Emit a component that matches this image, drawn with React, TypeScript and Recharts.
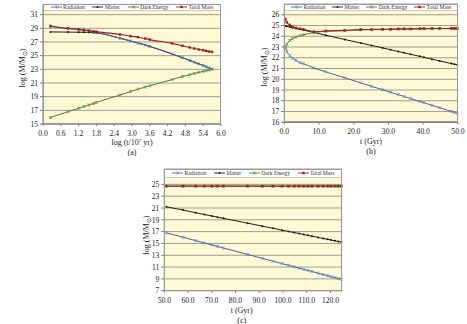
import { CartesianGrid, Line, LineChart, XAxis, YAxis } from "recharts";

// ---- panel (a): log time axis
const aX = [0.25, 0.84, 1.2, 1.38, 1.55, 1.7, 1.8, 2.6, 2.95, 3.2, 3.45, 3.6, 4.35, 4.7, 4.95, 5.1, 5.25, 5.4, 5.5, 5.6, 5.7];
const aRadiation = [29.25, 28.95, 28.8, 28.72, 28.62, 28.5, 28.42, 27.55, 27.15, 26.85, 26.55, 26.35, 25.25, 24.7, 24.3, 24.05, 23.8, 23.55, 23.38, 23.2, 23.05];
const aMatter = [28.47, 28.45, 28.43, 28.42, 28.4, 28.37, 28.33, 27.55, 27.15, 26.85, 26.55, 26.35, 25.25, 24.7, 24.3, 24.05, 23.8, 23.55, 23.38, 23.2, 23.05];
const aDark = [15.95, 16.8, 17.3, 17.55, 17.8, 18.0, 18.15, 19.25, 19.75, 20.1, 20.4, 20.6, 21.5, 21.95, 22.2, 22.4, 22.55, 22.7, 22.8, 22.9, 23.0];
const aTotal = [29.35, 29.0, 28.85, 28.75, 28.65, 28.55, 28.5, 28.1, 27.85, 27.7, 27.5, 27.35, 26.8, 26.45, 26.2, 26.05, 25.9, 25.8, 25.7, 25.6, 25.55];
const aXTicks = [0, 0.6, 1.2, 1.8, 2.4, 3.0, 3.6, 4.2, 4.8, 5.4, 6.0];
const aYTicks = [15, 17, 19, 21, 23, 25, 27, 29, 31];

// ---- panel (b): 0-50 Gyr
const bX = [0.3, 0.7, 1.6, 2.3, 3.4, 4.5, 5.5, 8.5, 11.9, 17.4, 22.0, 25.1, 28.3, 30.6, 32.8, 34.5, 36.4, 39.0, 40.2, 42.5, 44.7, 48.1, 49.0, 49.8];
const bRadiation = [23.0, 22.6, 22.2, 21.95, 21.75, 21.55, 21.45, 21.05, 20.7, 20.14, 19.67, 19.35, 19.03, 18.8, 18.57, 18.4, 18.2, 17.94, 17.82, 17.58, 17.36, 17.01, 16.92, 16.84];
const bMatter = [24.95, 24.92, 24.86, 24.8, 24.72, 24.65, 24.58, 24.35, 24.1, 23.7, 23.37, 23.15, 22.92, 22.75, 22.58, 22.46, 22.32, 22.13, 22.04, 21.87, 21.71, 21.46, 21.4, 21.34];
const bDark = [23.0, 23.25, 23.62, 23.78, 23.92, 24.05, 24.14, 24.33, 24.46, 24.52, 24.6, 24.61, 24.63, 24.64, 24.66, 24.67, 24.67, 24.69, 24.69, 24.7, 24.71, 24.71, 24.71, 24.71];
const bTotal = [25.62, 25.3, 25.05, 24.9, 24.78, 24.7, 24.65, 24.44, 24.5, 24.55, 24.62, 24.63, 24.65, 24.66, 24.68, 24.69, 24.69, 24.71, 24.71, 24.72, 24.72, 24.73, 24.73, 24.73];
const bXTicks = [0, 10, 20, 30, 40, 50];
const bYTicks = [16, 17, 18, 19, 20, 21, 22, 23, 24, 25, 26];

// ---- panel (c): 50-125 Gyr
const cX = [50.9, 57.9, 63.2, 66.9, 70.0, 72.4, 74.9, 85.1, 91.3, 95.8, 99.6, 102.3, 104.7, 106.8, 108.7, 110.5, 112.2, 114.8, 117.0, 118.8, 120.2, 121.9, 123.3, 124.6];
const cRadiation = [16.8, 16.05, 15.48, 15.08, 14.75, 14.5, 14.23, 13.14, 12.48, 12.0, 11.59, 11.3, 11.05, 10.82, 10.62, 10.43, 10.25, 9.97, 9.73, 9.54, 9.39, 9.21, 9.06, 8.92];
const cMatter = [21.2, 20.65, 20.2, 19.9, 19.65, 19.45, 19.25, 18.43, 17.93, 17.56, 17.25, 17.03, 16.84, 16.67, 16.52, 16.37, 16.23, 16.02, 15.84, 15.7, 15.58, 15.45, 15.33, 15.23];
const cDark = [24.69, 24.69, 24.69, 24.69, 24.69, 24.69, 24.69, 24.69, 24.69, 24.69, 24.69, 24.69, 24.69, 24.69, 24.69, 24.69, 24.69, 24.69, 24.69, 24.69, 24.69, 24.69, 24.69, 24.69];
const cTotal = [24.7, 24.7, 24.7, 24.7, 24.7, 24.7, 24.7, 24.7, 24.7, 24.7, 24.7, 24.7, 24.7, 24.7, 24.7, 24.7, 24.7, 24.7, 24.7, 24.7, 24.7, 24.7, 24.7, 24.7];
const cXTicks = [50, 60, 70, 80, 90, 100, 110, 120];
const cYTicks = [7, 9, 11, 13, 15, 17, 19, 21, 23, 25];

const seriesNames = ["Radiation", "Matter", "Dark Energy", "Total Mass"];

const SERIF = "'Liberation Serif', 'Times New Roman', serif";
const CREAM = "#fff9d6";
const GRID = "#858585";
const COLORS = {
  radiation: "#44679b",
  matter: "#1c1c1c",
  dark: "#4a8239",
  total: "#9e1f22",
};

type Kind = "radiation" | "matter" | "dark" | "total";

function buildRows(x: number[], r: number[], m: number[], d: number[], t: number[]) {
  return x.map((v, i) => ({ x: v, radiation: r[i], matter: m[i], dark: d[i], total: t[i] }));
}

function Marker({ kind, cx, cy }: { kind: Kind; cx: number; cy: number }) {
  const c = COLORS[kind];
  if (kind === "matter") return <circle cx={cx} cy={cy} r={1} fill={c} />;
  if (kind === "total") return <rect x={cx - 1.2} y={cy - 1.2} width={2.4} height={2.4} fill={c} />;
  const s = 1.5;
  const mk = kind === "radiation" ? "#6f92c6" : "#5f9a50";
  return (
    <g stroke={mk} strokeWidth={0.7}>
      <line x1={cx - s} y1={cy - s} x2={cx + s} y2={cy + s} />
      <line x1={cx - s} y1={cy + s} x2={cx + s} y2={cy - s} />
      <line x1={cx} y1={cy - s} x2={cx} y2={cy + s} />
    </g>
  );
}

const dotFor = (kind: Kind) => (props: any) => {
  const { cx, cy, index } = props;
  if (cx == null || cy == null) return <g key={`${kind}-${index}`} />;
  return (
    <g key={`${kind}-${index}`}>
      <Marker kind={kind} cx={cx} cy={cy} />
    </g>
  );
};

const kinds: Kind[] = ["radiation", "matter", "dark", "total"];

function LegendStrip({ left, top, width, height }: { left: number; top: number; width: number; height: number }) {
  return (
    <div
      style={{
        position: "absolute",
        left,
        top,
        width,
        height,
        background: "#fff",
        borderBottom: "1px solid #c8c8c8",
        display: "flex",
        justifyContent: "space-evenly",
        alignItems: "center",
        fontFamily: SERIF,
        fontSize: 5.6,
        color: "#333",
        zIndex: 2,
        boxSizing: "border-box",
      }}
    >
      {kinds.map((k, i) => (
        <span key={k} style={{ display: "flex", alignItems: "center", gap: 1.5 }}>
          <svg width={11} height={6}>
            <line x1={0} y1={3} x2={11} y2={3} stroke={COLORS[k]} strokeWidth={0.9} />
            <Marker kind={k} cx={5.5} cy={3} />
          </svg>
          {seriesNames[i]}
        </span>
      ))}
    </div>
  );
}

interface PanelProps {
  box: { left: number; top: number; width: number; height: number };
  plot: { left: number; right: number; top: number; bottom: number };
  legendH: number;
  data: ReturnType<typeof buildRows>;
  xDomain: [number, number];
  xTicks: number[];
  yDomain: [number, number];
  yTicks: number[];
  xTitle: React.ReactNode;
  tag: string;
  yTitleX: number;
  xTitleX: number;
  xTitleY: number;
}

function Panel(p: PanelProps) {
  const { box, plot } = p;
  const yAxisW = 20;
  const xAxisH = 12;
  const margin = {
    top: plot.top - box.top,
    right: box.left + box.width - plot.right,
    bottom: box.top + box.height - plot.bottom - xAxisH,
    left: plot.left - box.left - yAxisW,
  };
  const tickStyle = { fill: "#222", fontSize: 7.6, fontFamily: SERIF };
  const yMid = (plot.top + p.legendH + plot.bottom) / 2;
  return (
    <>
      <div style={{ position: "absolute", left: box.left, top: box.top }}>
        <LineChart width={box.width} height={box.height} data={p.data} margin={margin}>
          <CartesianGrid vertical={false} fill={CREAM} stroke={GRID} strokeWidth={0.8} />
          <XAxis
            type="number"
            dataKey="x"
            domain={p.xDomain}
            ticks={p.xTicks}
            interval={0}
            height={xAxisH}
            tick={tickStyle}
            tickSize={2}
            tickMargin={4.5}
            tickFormatter={(v: number) => v.toFixed(1)}
            axisLine={{ stroke: "#777" }}
            tickLine={{ stroke: "#777" }}
          />
          <YAxis
            type="number"
            domain={p.yDomain}
            ticks={p.yTicks}
            interval={0}
            width={yAxisW}
            tick={tickStyle}
            tickSize={3}
            axisLine={{ stroke: "#777" }}
            tickLine={{ stroke: "#777" }}
          />
          <Line type="monotone" dataKey="matter" stroke={COLORS.matter} strokeWidth={1} dot={dotFor("matter")} isAnimationActive={false} />
          <Line type="monotone" dataKey="radiation" stroke={COLORS.radiation} strokeWidth={1} dot={dotFor("radiation")} isAnimationActive={false} />
          <Line type="monotone" dataKey="dark" stroke={COLORS.dark} strokeWidth={1} dot={dotFor("dark")} isAnimationActive={false} />
          <Line type="monotone" dataKey="total" stroke={COLORS.total} strokeWidth={1.1} dot={dotFor("total")} isAnimationActive={false} />
        </LineChart>
      </div>
      <LegendStrip left={plot.left} top={plot.top} width={plot.right - plot.left} height={p.legendH} />
      <div
        style={{
          position: "absolute",
          left: plot.left,
          top: plot.top,
          width: plot.right - plot.left,
          height: plot.bottom - plot.top,
          border: "1px solid #9a9a9a",
          boxSizing: "border-box",
          pointerEvents: "none",
          zIndex: 3,
        }}
      />
      <div
        style={{
          position: "absolute",
          left: p.yTitleX,
          top: yMid,
          transform: "translate(-50%, -50%) rotate(-90deg)",
          fontFamily: SERIF,
          fontSize: 8,
          color: "#222",
          whiteSpace: "nowrap",
        }}
      >
        log (M/M<sub style={{ fontSize: 5.5 }}>⊙</sub>)
      </div>
      <div
        style={{
          position: "absolute",
          left: p.xTitleX,
          top: p.xTitleY,
          transform: "translate(-50%, -50%)",
          fontFamily: SERIF,
          fontSize: 8,
          color: "#222",
          whiteSpace: "nowrap",
        }}
      >
        {p.xTitle}
      </div>
      <div
        style={{
          position: "absolute",
          left: p.xTitleX,
          top: p.xTitleY + 10,
          transform: "translate(-50%, -50%)",
          fontFamily: SERIF,
          fontSize: 8,
          color: "#222",
        }}
      >
        {p.tag}
      </div>
    </>
  );
}

export default function App() {
  return (
    <div style={{ position: "absolute", left: 0, top: 0, width: 467, height: 324, background: "#fff", overflow: "hidden" }}>
      <Panel
        box={{ left: 0, top: 0, width: 235, height: 160 }}
        plot={{ left: 43, right: 221, top: 4.4, bottom: 124 }}
        legendH={6.8}
        data={buildRows(aX, aRadiation, aMatter, aDark, aTotal)}
        xDomain={[0, 6]}
        xTicks={aXTicks}
        yDomain={[15, 32.5]}
        yTicks={aYTicks}
        xTitle={
          <span>
            log (t/10<sup style={{ fontSize: 5 }}>7</sup> yr)
          </span>
        }
        tag="(a)"
        yTitleX={23}
        xTitleX={132}
        xTitleY={142}
      />
      <Panel
        box={{ left: 235, top: 0, width: 232, height: 160 }}
        plot={{ left: 284.3, right: 458, top: 4, bottom: 122.3 }}
        legendH={6.8}
        data={buildRows(bX, bRadiation, bMatter, bDark, bTotal)}
        xDomain={[0, 50]}
        xTicks={bXTicks}
        yDomain={[16, 27]}
        yTicks={bYTicks}
        xTitle="t (Gyr)"
        tag="(b)"
        yTitleX={265}
        xTitleX={371}
        xTitleY={141}
      />
      <Panel
        box={{ left: 100, top: 160, width: 260, height: 164 }}
        plot={{ left: 164.3, right: 342.3, top: 169, bottom: 290.7 }}
        legendH={9.4}
        data={buildRows(cX, cRadiation, cMatter, cDark, cTotal)}
        xDomain={[50, 125]}
        xTicks={cXTicks}
        yDomain={[7, 27.6]}
        yTicks={cYTicks}
        xTitle="t (Gyr)"
        tag="(c)"
        yTitleX={146.7}
        xTitleX={241.7}
        xTitleY={309.5}
      />
    </div>
  );
}
